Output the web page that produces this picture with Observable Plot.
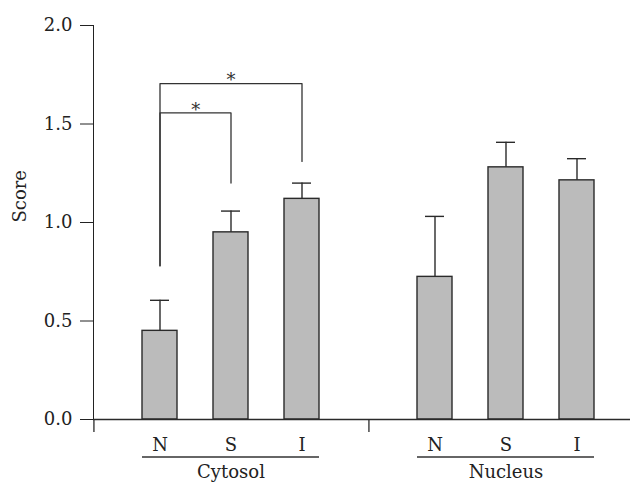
<!DOCTYPE html>
<html><head><meta charset="utf-8">
<script src="https://cdn.jsdelivr.net/npm/d3@7"></script>
<script src="https://cdn.jsdelivr.net/npm/@observablehq/plot@0.6"></script>
<style>body{margin:0;background:#fff;} svg{display:block}</style>
</head><body><div id="chart"></div>
<script>
const groups = ["Cytosol", "Nucleus"];
const categories = ["N", "S", "I"];
const cytosolMeans = [0.45, 0.95, 1.12];
const cytosolErrors = [0.155, 0.108, 0.08];
const nucleusMeans = [0.724, 1.28, 1.214];
const nucleusErrors = [0.307, 0.127, 0.11];
const yTicks = [0, 0.5, 1.0, 1.5, 2.0];
const yLabel = "Score";
const bracketFrom = ["N", "N"];
const bracketTo = ["S", "I"];
const bracketTop = [1.556, 1.705];
const bracketFromEnd = [0.78, 0.78];
const bracketToEnd = [1.20, 1.31];
const bracketLabel = ["*", "*"];

const W = 639, H = 484;
const fxRange = [93, 643];
const padIn = 0.51, padOut = 0.68;
const facetW = (fxRange[1] - fxRange[0]) / groups.length;
const step = facetW / (categories.length - padIn + 2 * padOut);
const bandW = step * (1 - padIn);
const edgeOffset = step * padOut + bandW / 2; // from first band centre to facet edge

const rows = [];
groups.forEach((g, gi) => {
  const means = gi === 0 ? cytosolMeans : nucleusMeans;
  const errs = gi === 0 ? cytosolErrors : nucleusErrors;
  categories.forEach((c, i) => rows.push({group: g, cat: c, value: means[i], top: means[i] + errs[i]}));
});

const bracketPts = [];
const starRows = [];
bracketFrom.forEach((f, i) => {
  const t = bracketTo[i];
  bracketPts.push({id: i, group: groups[0], cat: f, y: bracketFromEnd[i]});
  bracketPts.push({id: i, group: groups[0], cat: f, y: bracketTop[i]});
  bracketPts.push({id: i, group: groups[0], cat: t, y: bracketTop[i]});
  bracketPts.push({id: i, group: groups[0], cat: t, y: bracketToEnd[i]});
  const mid = (categories.indexOf(f) + categories.indexOf(t)) / 2;
  starRows.push({group: groups[0], cat: categories[Math.floor(mid)], off: (mid - Math.floor(mid)) * step, y: bracketTop[i], label: bracketLabel[i]});
});

const groupRows = groups.map(g => ({group: g}));
const ink = "#2a2a2a";

const marks = [
  Plot.barY(rows, {fx: "group", x: "cat", y: "value", fill: "#bbbbbb", stroke: ink, strokeWidth: 1.4}),
  Plot.ruleX(rows, {fx: "group", x: "cat", y1: "value", y2: "top", stroke: ink, strokeWidth: 1.4}),
  Plot.tickY(rows, {fx: "group", x: "cat", y: "top", stroke: ink, strokeWidth: 1.4, insetLeft: 8, insetRight: 8}),
  Plot.line(bracketPts, {fx: "group", x: "cat", y: "y", z: "id", stroke: "#333", strokeWidth: 1.3}),
  Plot.ruleY(groupRows.slice(0, 1), {fx: "group", y: () => 0, stroke: ink, strokeWidth: 1.3}),
  Plot.ruleY(groupRows.slice(1), {fx: "group", y: () => 0, stroke: ink, strokeWidth: 1.3, insetRight: 13}),
  Plot.ruleX(groupRows, {fx: "group", x: () => categories[0], y1: () => 0, y2: () => 0, insetBottom: -13, dx: -edgeOffset, stroke: ink, strokeWidth: 1.3}),
  Plot.ruleY(groupRows, {fx: "group", y: () => 0, x1: () => categories[0], x2: () => categories[categories.length - 1], dy: 37.5, stroke: "#333", strokeWidth: 1.3}),
  Plot.text(groupRows.slice(0, 1), {fx: "group", frameAnchor: "left", text: () => yLabel, rotate: -90, dx: -73, fontSize: 18, fill: "#222"})
];
starRows.forEach(s => {
  marks.push(Plot.text([s], {fx: "group", x: "cat", y: "y", text: "label", dx: s.off, dy: -3, fontSize: 18, fill: "#333"}));
});

const chart = Plot.plot({
  width: W,
  height: H,
  marginLeft: 93,
  marginRight: 0,
  marginTop: 25,
  marginBottom: 65,
  style: {fontFamily: "'DejaVu Serif', serif", fontSize: "18px", color: "#222", background: "#fff"},
  fx: {domain: groups, range: fxRange, padding: 0, axis: "bottom", tickSize: 0, tickPadding: 46, label: null},
  x: {domain: categories, paddingInner: padIn, paddingOuter: padOut, tickSize: 0, tickPadding: 19, label: null},
  y: {domain: [0, 2], ticks: yTicks, tickFormat: d3.format(".1f"), tickSize: 13, tickPadding: 8, label: null, line: true},
  marks
});
document.getElementById("chart").appendChild(chart);
</script>
</body></html>
